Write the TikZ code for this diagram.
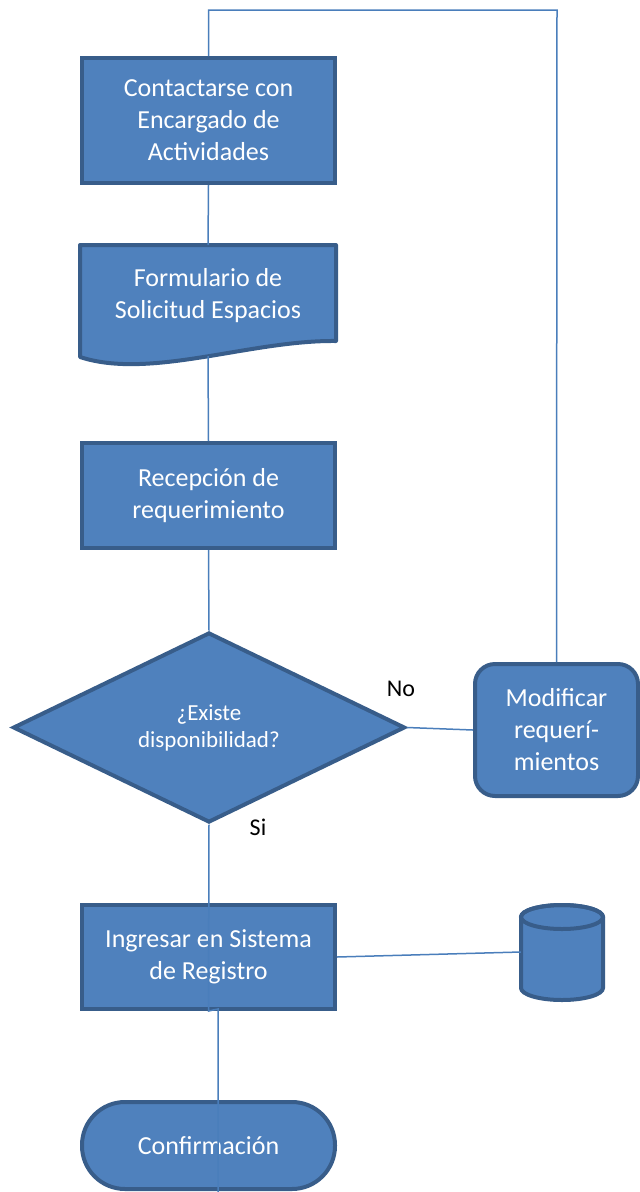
\documentclass[tikz,border=0pt]{standalone}
\usepackage{fontspec}
\setmainfont{Carlito}
\usetikzlibrary{shapes.geometric}
\definecolor{boxfill}{HTML}{4F81BD}
\definecolor{boxdraw}{HTML}{385D8A}
\definecolor{linkcol}{HTML}{4A7EBB}
\begin{document}
\begin{tikzpicture}[x=1pt,y=1pt,
  boxstyle/.style={draw=boxdraw, fill=boxfill, line width=4pt, text=white, align=center,
    font=\fontsize{26}{32}\selectfont, inner sep=0pt},
  linkstyle/.style={draw=linkcol, line width=1.5pt},
  lbl/.style={font=\fontsize{24}{28}\selectfont, text=black, inner sep=0pt}]
\useasboundingbox (0,0) rectangle (640,-1192);

% boxes
\node[boxstyle, minimum width=253, minimum height=125] (c1) at (208.5,-120.5)
  {Contactarse con\\Encargado de\\Actividades};

% document shape
\coordinate (doct) at (208,-245);
\coordinate (docb) at (208,-356);
\draw[draw=boxdraw, fill=boxfill, line width=4pt, line join=round]
  (80,-245) -- (336,-245) -- (336,-341)
  .. controls (250,-340) and (150,-380) .. (80,-357) -- cycle;
\node[text=white, align=center, font=\fontsize{26}{32}\selectfont, inner sep=0pt] (doc) at (208,-296)
  {Formulario de\\Solicitud Espacios};

\node[boxstyle, minimum width=253, minimum height=105] (c3) at (208.5,-495.5)
  {Recepción de\\requerimiento};

\node[boxstyle, diamond, minimum width=392, minimum height=190,
  font=\fontsize{23}{27}\selectfont] (dia) at (209,-727.5)
  {¿Existe\\disponibilidad?};

\node[boxstyle, rounded corners=20pt, minimum width=163, minimum height=132] (mod) at (556.5,-730)
  {Modificar\\requerí-\\mientos};

\node[boxstyle, minimum width=253, minimum height=104] (ing) at (208.5,-957)
  {Ingresar en Sistema\\de Registro};

% cylinder (database)
\node[minimum width=82, minimum height=96, inner sep=0pt] (db) at (562,-952) {};
\draw[draw=boxdraw, fill=boxfill, line width=4pt]
  (521,-917) -- (521,-988) arc[start angle=180, end angle=360, x radius=41, y radius=12]
  -- (603,-917) arc[start angle=0, end angle=180, x radius=41, y radius=12] -- cycle;
\draw[draw=boxdraw, line width=4pt] (562,-917) ellipse[x radius=41, y radius=12];

\node[boxstyle, rounded corners=43pt, minimum width=253, minimum height=87] (conf) at (208.5,-1145.5)
  {Confirmación};

% labels
\node[lbl] (no) at (401,-689) {No};
\node[lbl] (si) at (258,-827) {Si};

% connectors
\coordinate (loop) at (557,-10);
\coordinate (jog) at (218,-1009);
\coordinate (endc) at (218,-1192);
\draw[linkstyle] (c1.north) |- (loop) -- (mod.north);
\draw[linkstyle] (c1.south) -- (doct);
\draw[linkstyle] (docb) -- (c3.north);
\draw[linkstyle] (c3.south) -- (dia.north);
\draw[linkstyle] (dia.east) -- (mod.west);
\draw[linkstyle] (dia.south) -- (ing.south) -- (jog) -- (endc);
\draw[linkstyle] (ing.east) -- (db.west);
\end{tikzpicture}
\end{document}
